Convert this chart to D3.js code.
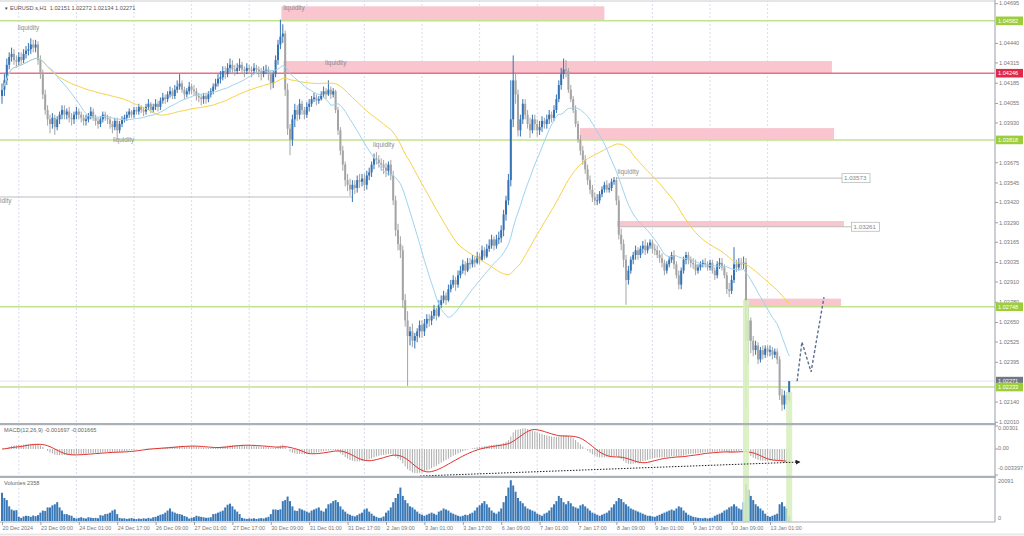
<!DOCTYPE html>
<html><head><meta charset="utf-8">
<script src="https://cdn.jsdelivr.net/npm/d3@7"></script>
<style>
body{margin:0;background:#fff;overflow:hidden;}
svg{display:block;font-family:"Liberation Sans",Arial,sans-serif;}
</style></head><body>
<svg id="c" width="1024" height="536"></svg>
<script>
// ---------------- DATA ----------------
const headerText = "EURUSD.s,H1  1.02151 1.02272 1.02134 1.02271";
const macdLabel = "MACD(12,26,9) -0.001697 -0.001665";
const volumeLabel = "Volumes 2358";
const firstOpen = 1.0410;
const closes = [
1.0414,1.0420,1.0430,1.0435,1.0437,1.0433,1.0432,1.0435,1.0433,1.0437,1.0439,1.0440,1.0443,1.0441,1.0443,1.0433,
1.0424,1.0411,1.0401,1.0395,1.0392,1.0396,1.0390,1.0395,1.0398,1.0401,1.0398,1.0400,1.0396,1.0395,1.0398,1.0400,
1.0398,1.0396,1.0394,1.0395,1.0397,1.0400,1.0396,1.0394,1.0392,1.0395,1.0398,1.0396,1.0395,1.0392,1.0390,1.0394,
1.0388,1.0392,1.0395,1.0396,1.0398,1.0400,1.0398,1.0401,1.0400,1.0403,1.0401,1.0400,1.0403,1.0405,1.0401,1.0403,
1.0405,1.0403,1.0407,1.0409,1.0408,1.0411,1.0413,1.0410,1.0414,1.0416,1.0418,1.0414,1.0411,1.0413,1.0416,1.0414,
1.0413,1.0410,1.0409,1.0408,1.0410,1.0408,1.0411,1.0413,1.0416,1.0418,1.0421,1.0422,1.0426,1.0424,1.0428,1.0430,
1.0427,1.0426,1.0428,1.0430,1.0427,1.0426,1.0428,1.0427,1.0426,1.0428,1.0427,1.0426,1.0424,1.0426,1.0427,1.0424,
1.0418,1.0424,1.0433,1.0443,1.0448,1.0450,1.0414,1.0389,1.0382,1.0395,1.0401,1.0398,1.0405,1.0401,1.0398,1.0403,
1.0405,1.0408,1.0409,1.0407,1.0408,1.0411,1.0413,1.0411,1.0414,1.0411,1.0413,1.0401,1.0388,1.0375,1.0366,1.0356,
1.0353,1.0350,1.0353,1.0351,1.0356,1.0355,1.0357,1.0353,1.0359,1.0361,1.0366,1.0370,1.0369,1.0367,1.0366,1.0364,
1.0362,1.0366,1.0359,1.0343,1.0324,1.0315,1.0311,1.0279,1.0266,1.0256,1.0259,1.0253,1.0256,1.0259,1.0263,1.0259,
1.0264,1.0267,1.0266,1.0269,1.0273,1.0269,1.0276,1.0279,1.0282,1.0279,1.0286,1.0289,1.0292,1.0289,1.0295,1.0298,
1.0302,1.0298,1.0303,1.0302,1.0305,1.0303,1.0307,1.0305,1.0311,1.0307,1.0312,1.0314,1.0318,1.0314,1.0318,1.0319,
1.0324,1.0334,1.0343,1.0356,1.0395,1.0420,1.0411,1.0388,1.0395,1.0405,1.0398,1.0392,1.0388,1.0395,1.0392,1.0388,
1.0390,1.0394,1.0392,1.0395,1.0398,1.0396,1.0401,1.0408,1.0417,1.0424,1.0427,1.0426,1.0414,1.0408,1.0401,1.0392,
1.0382,1.0375,1.0369,1.0363,1.0356,1.0350,1.0345,1.0343,1.0343,1.0347,1.0350,1.0353,1.0350,1.0351,1.0355,1.0356,
1.0343,1.0321,1.0315,1.0305,1.0292,1.0298,1.0305,1.0308,1.0311,1.0308,1.0312,1.0314,1.0311,1.0314,1.0316,1.0312,
1.0311,1.0308,1.0306,1.0303,1.0298,1.0302,1.0305,1.0308,1.0302,1.0295,1.0289,1.0298,1.0305,1.0308,1.0305,1.0303,
1.0302,1.0298,1.0300,1.0302,1.0303,1.0302,1.0300,1.0303,1.0298,1.0295,1.0302,1.0303,1.0300,1.0295,1.0286,1.0285,
1.0292,1.0302,1.0300,1.0303,1.0302,1.0303,1.0253,1.0266,1.0253,1.0247,1.0250,1.0241,1.0247,1.0244,1.0248,1.0246,
1.0247,1.0244,1.0246,1.0241,1.0218,1.0212,1.0218,1.02151,1.02271];
const highs = [
1.0418,1.0424,1.0434,1.0438,1.0441,1.0440,1.0436,1.0438,1.0438,1.0440,1.0442,1.0444,1.0447,1.0446,1.0446,1.0445,
1.0436,1.0427,1.0414,1.0404,1.0398,1.0399,1.0398,1.0397,1.0400,1.0404,1.0404,1.0402,1.0403,1.0399,1.0400,1.0403,
1.0402,1.0400,1.0398,1.0398,1.0399,1.0403,1.0402,1.0398,1.0396,1.0397,1.0400,1.0400,1.0398,1.0397,1.0394,1.0396,
1.0396,1.0394,1.0397,1.0398,1.0400,1.0402,1.0401,1.0403,1.0403,1.0405,1.0404,1.0403,1.0405,1.0408,1.0406,1.0405,
1.0408,1.0407,1.0409,1.0412,1.0411,1.0413,1.0416,1.0415,1.0417,1.0420,1.0424,1.0420,1.0416,1.0415,1.0419,1.0418,
1.0417,1.0415,1.0412,1.0411,1.0412,1.0412,1.0413,1.0415,1.0418,1.0421,1.0424,1.0426,1.0429,1.0429,1.0431,1.0434,
1.0433,1.0430,1.0431,1.0434,1.0432,1.0429,1.0431,1.0430,1.0429,1.0431,1.0430,1.0429,1.0428,1.0429,1.0430,1.0429,
1.0426,1.0426,1.0436,1.0446,1.0459,1.0456,1.0452,1.0418,1.0392,1.0398,1.0405,1.0404,1.0408,1.0407,1.0403,1.0406,
1.0408,1.0410,1.0412,1.0411,1.0410,1.0413,1.0416,1.0415,1.0420,1.0416,1.0415,1.0414,1.0403,1.0390,1.0378,1.0368,
1.0360,1.0357,1.0356,1.0356,1.0359,1.0360,1.0360,1.0360,1.0362,1.0364,1.0368,1.0373,1.0374,1.0372,1.0370,1.0369,
1.0367,1.0368,1.0369,1.0362,1.0346,1.0328,1.0320,1.0314,1.0283,1.0272,1.0262,1.0264,1.0258,1.0261,1.0266,1.0266,
1.0267,1.0270,1.0270,1.0272,1.0276,1.0274,1.0279,1.0282,1.0285,1.0284,1.0289,1.0292,1.0295,1.0294,1.0298,1.0301,
1.0305,1.0304,1.0306,1.0306,1.0308,1.0307,1.0310,1.0309,1.0314,1.0313,1.0315,1.0318,1.0321,1.0320,1.0321,1.0323,
1.0327,1.0337,1.0346,1.0360,1.0420,1.0436,1.0425,1.0414,1.0398,1.0408,1.0408,1.0401,1.0396,1.0398,1.0398,1.0395,
1.0394,1.0397,1.0396,1.0398,1.0401,1.0400,1.0404,1.0411,1.0420,1.0428,1.0434,1.0433,1.0428,1.0417,1.0410,1.0404,
1.0394,1.0385,1.0378,1.0372,1.0366,1.0359,1.0353,1.0348,1.0347,1.0349,1.0352,1.0355,1.0356,1.0354,1.0357,1.0358,
1.0358,1.0346,1.0325,1.0318,1.0308,1.0301,1.0307,1.0310,1.0314,1.0313,1.0314,1.0317,1.0318,1.0316,1.0318,1.0318,
1.0315,1.0314,1.0311,1.0309,1.0305,1.0304,1.0307,1.0310,1.0311,1.0304,1.0298,1.0300,1.0307,1.0310,1.0310,1.0307,
1.0306,1.0305,1.0302,1.0304,1.0305,1.0306,1.0304,1.0305,1.0305,1.0300,1.0304,1.0306,1.0306,1.0302,1.0297,1.0290,
1.0295,1.0313,1.0305,1.0306,1.0306,1.0307,1.0306,1.0276,1.0268,1.0256,1.0253,1.0252,1.0249,1.0250,1.0250,1.0250,
1.0250,1.0249,1.0248,1.0248,1.0243,1.0222,1.0221,1.0220,1.02272];
const lows = [
1.0405,1.0410,1.0417,1.0427,1.0432,1.0430,1.0428,1.0429,1.0430,1.0431,1.0434,1.0436,1.0437,1.0438,1.0438,1.0430,
1.0421,1.0408,1.0398,1.0391,1.0386,1.0389,1.0385,1.0388,1.0392,1.0395,1.0395,1.0395,1.0393,1.0391,1.0392,1.0395,
1.0395,1.0393,1.0391,1.0391,1.0393,1.0395,1.0394,1.0391,1.0389,1.0390,1.0393,1.0394,1.0392,1.0389,1.0386,1.0388,
1.0382,1.0386,1.0390,1.0393,1.0394,1.0396,1.0396,1.0396,1.0398,1.0398,1.0399,1.0397,1.0398,1.0401,1.0399,1.0399,
1.0401,1.0400,1.0401,1.0405,1.0405,1.0406,1.0409,1.0408,1.0408,1.0412,1.0414,1.0412,1.0408,1.0409,1.0411,1.0411,
1.0410,1.0407,1.0406,1.0404,1.0405,1.0405,1.0406,1.0409,1.0411,1.0414,1.0416,1.0418,1.0420,1.0421,1.0422,1.0425,
1.0424,1.0423,1.0424,1.0426,1.0424,1.0422,1.0424,1.0424,1.0422,1.0424,1.0424,1.0422,1.0420,1.0422,1.0424,1.0420,
1.0414,1.0415,1.0422,1.0430,1.0440,1.0444,1.0410,1.0385,1.0372,1.0378,1.0390,1.0394,1.0395,1.0398,1.0395,1.0396,
1.0400,1.0403,1.0406,1.0404,1.0405,1.0407,1.0409,1.0408,1.0410,1.0408,1.0409,1.0399,1.0385,1.0372,1.0362,1.0352,
1.0349,1.0346,1.0342,1.0347,1.0348,1.0351,1.0352,1.0349,1.0350,1.0356,1.0358,1.0363,1.0366,1.0364,1.0362,1.0360,
1.0358,1.0359,1.0356,1.0340,1.0320,1.0311,1.0306,1.0274,1.0262,1.0224,1.0250,1.0249,1.0248,1.0252,1.0255,1.0255,
1.0256,1.0261,1.0262,1.0263,1.0267,1.0266,1.0268,1.0274,1.0277,1.0276,1.0278,1.0284,1.0287,1.0285,1.0287,1.0293,
1.0296,1.0295,1.0297,1.0299,1.0300,1.0300,1.0302,1.0302,1.0304,1.0305,1.0306,1.0310,1.0312,1.0311,1.0312,1.0315,
1.0316,1.0320,1.0330,1.0340,1.0352,1.0390,1.0405,1.0384,1.0384,1.0392,1.0395,1.0389,1.0383,1.0386,1.0388,1.0384,
1.0385,1.0387,1.0389,1.0389,1.0392,1.0393,1.0394,1.0399,1.0406,1.0414,1.0421,1.0422,1.0412,1.0406,1.0399,1.0390,
1.0380,1.0372,1.0366,1.0360,1.0353,1.0347,1.0342,1.0340,1.0340,1.0341,1.0345,1.0348,1.0348,1.0348,1.0349,1.0353,
1.0340,1.0318,1.0311,1.0300,1.0276,1.0289,1.0296,1.0302,1.0305,1.0305,1.0306,1.0309,1.0308,1.0309,1.0312,1.0309,
1.0308,1.0306,1.0303,1.0300,1.0295,1.0296,1.0300,1.0303,1.0299,1.0293,1.0286,1.0286,1.0296,1.0302,1.0302,1.0300,
1.0299,1.0295,1.0296,1.0298,1.0300,1.0300,1.0298,1.0298,1.0296,1.0292,1.0293,1.0299,1.0298,1.0293,1.0283,1.0281,
1.0283,1.0290,1.0297,1.0298,1.0299,1.0299,1.0210,1.0238,1.0245,1.0243,1.0244,1.0238,1.0239,1.0241,1.0242,1.0243,
1.0243,1.0241,1.0242,1.0238,1.0215,1.0208,1.0209,1.0212,1.02134];
const volumes = [
13500,11000,10000,7000,5500,5000,5200,2000,1500,2200,2500,2400,2000,2600,2300,2800,
4000,5000,4800,6500,6500,7500,8000,9000,6500,5000,3300,3300,2800,2500,1500,1200,
1500,1800,1400,1200,1800,1600,1400,1500,1300,2800,2600,3300,3500,4000,5000,5500,
3300,1500,1200,1300,1000,1200,1400,1100,900,1200,1000,1300,1100,1500,1200,1800,
2000,2500,3000,3300,4000,5000,6000,4500,4000,3500,3300,3000,2400,2000,1200,1500,
1800,2500,2200,2000,1800,1500,1600,1800,3300,3500,4000,4500,5000,6500,7800,8300,
7000,5500,4500,3300,1500,1200,1000,1200,1100,1300,1000,1200,1400,1200,1600,2000,
3300,5500,5500,5300,5600,9500,10000,11700,9500,7000,5000,4800,6000,5500,5000,4500,
4000,5000,5500,6000,6500,5000,4500,6000,8000,8500,9500,10000,9000,7000,5500,4500,
3500,3000,2500,2200,2800,3500,4000,5500,6000,4500,3500,2500,2000,1500,1600,2200,
4000,5000,6500,9000,11000,13000,16000,12000,10000,8500,7000,6500,5500,4500,3500,3000,
2500,3000,3500,4000,3500,3000,4500,5000,6000,5500,5000,4000,3500,3000,2500,2200,
2500,3000,2800,3500,4000,5000,6500,7500,8500,9500,8000,6500,5000,4000,3500,4500,
6000,9000,12000,16000,19500,17000,14000,11000,9500,8500,7000,6000,5500,5000,4500,3500,
3000,2500,3500,4000,5000,6500,8000,9500,12000,11000,9000,8000,9500,8500,7000,6500,
6000,7500,8000,7000,6000,5000,4000,3500,3000,2500,3000,3500,4000,5000,6500,8000,
9500,11000,10500,9000,8000,7000,6000,5500,5000,4500,4000,3500,3000,2500,2500,2200,
2000,2500,3000,3500,4000,4500,5000,5500,5000,6000,7000,6500,5000,4000,3000,2500,
2000,1800,1500,1400,1300,1500,1200,1400,1600,2500,3000,3500,4000,5000,5500,6500,
7000,8000,7000,6000,5500,9000,17500,15000,12000,10000,8000,7000,6000,5000,3500,2500,
2000,2500,3000,3500,8000,9000,7000,6000,2358];
const timeLabels = ["20 Dec 2024","23 Dec 09:00","24 Dec 01:00","24 Dec 17:00","26 Dec 09:00","27 Dec 01:00","27 Dec 17:00","30 Dec 09:00","31 Dec 01:00","31 Dec 17:00","2 Jan 09:00","3 Jan 01:00","3 Jan 17:00","6 Jan 09:00","7 Jan 01:00","7 Jan 17:00","8 Jan 09:00","9 Jan 01:00","9 Jan 17:00","10 Jan 09:00","13 Jan 01:00"];
const timeLabelBars = [0,16,32,48,64,80,96,112,128,144,160,176,192,208,224,240,256,272,288,304,320];
const daySeparatorBars = [7,31,55,79,103,127,151,175,199,223,247,271,295,319];
const priceTicks = [1.04695,1.04440,1.04315,1.04185,1.04055,1.03930,1.03675,1.03545,1.03420,1.03290,1.03165,1.03035,1.02910,1.02780,1.02650,1.02525,1.02395,1.02140,1.02010];
const priceDomain = [1.02010, 1.04695];
const macdDomain = [-0.003397, 0.00301];
const macdTickLabels = ["0.00301","0.00","-0.003397"];
const volumeDomain = [0, 20091];
const greenLevels = [1.04582, 1.03818, 1.02748, 1.02233];
const redLevels = [1.04246];
const bidPrice = 1.02271;
const greyLinePrices = [1.03452, 1.03573, 1.03261];
const greyLineStart = [-6, 256, 257];
const greyLineEnd = [146, 350, 354];
const greyLineLabels = ["", "1.03573", "1.03261"];
const zoneStart = [116.4, 117.3, 240.8, 256.3, 309.2];
const zoneEnd   = [251.0, 345.8, 346.7, 350.8, 349.6];
const zoneTop   = [1.04675, 1.04324, 1.03894, 1.03298, 1.02800];
const zoneBottom= [1.04582, 1.04246, 1.03818, 1.03261, 1.02748];
const liqBars   = [6.6, 46.2, 117.2, 134.6, 154.6, 256.5, -0.8];
const liqPrices = [1.04520, 1.03805, 1.04650, 1.04300, 1.03775, 1.03600, 1.03415];
const liqTexts  = ["liquidity","liquidity","liquidity","liquidity","liquidity","liquidity","idity"];
const highlightBars = [310, 328];
const highlightTopPrice = [1.02790, 1.02200];
const projBars = [331.3, 333.3, 337.1, 342.5];
const projPrices = [1.02270, 1.02522, 1.02330, 1.02810];
const divBars = [174.2, 332.5];
const divValues = [-0.00353, -0.00170];

// ---------------- HELPERS ----------------
const N = closes.length;
const opens = closes.map((c,i)=> i===0 ? firstOpen : closes[i-1]);
function sma(arr, n){ return arr.map((_,i)=>{ const s=Math.max(0,i-n+1); return d3.mean(arr.slice(s,i+1)); }); }
function ema(arr, n){ const k=2/(n+1); let e=arr[0]; return arr.map(v=> (e = v*k + e*(1-k))); }
const maFast = sma(closes, 20);
const maSlow = sma(closes, 50);
const e12 = ema(closes,12), e26 = ema(closes,26);
const macd = e12.map((v,i)=> v - e26[i]);
const signal = sma(macd, 9);

// ---------------- SCALES ----------------
const W = 1024, H = 536;
const plotRight = 995;
const x = d3.scaleLinear().domain([0, N-1]).range([2, 2 + (N-1)*2.4]);
const y = d3.scaleLinear().domain(priceDomain).range([421.8, 3.2]);
const yM = d3.scaleLinear().domain(macdDomain).range([475, 426]);
const yV = d3.scaleLinear().domain(volumeDomain).range([521, 479]);

const svg = d3.select("#c");
svg.append("rect").attr("width",W).attr("height",H).attr("fill","#fff");

svg.append("clipPath").attr("id","cm").append("rect").attr("x",0).attr("y",1).attr("width",plotRight).attr("height",422);
svg.append("clipPath").attr("id","cmacd").append("rect").attr("x",0).attr("y",425).attr("width",plotRight).attr("height",51);
svg.append("clipPath").attr("id","cv").append("rect").attr("x",0).attr("y",478).attr("width",plotRight).attr("height",44);

const gMain = svg.append("g").attr("clip-path","url(#cm)");
const gMacd = svg.append("g").attr("clip-path","url(#cmacd)");
const gVol = svg.append("g").attr("clip-path","url(#cv)");

[gMain,gMacd,gVol].forEach(g=>{
  g.selectAll("line.grid").data(daySeparatorBars).join("line")
   .attr("x1",d=>x(d)).attr("x2",d=>x(d)).attr("y1",0).attr("y2",536)
   .attr("stroke","#cfd0ea").attr("stroke-width",0.8).attr("stroke-dasharray","2,2");
});

svg.append("g").selectAll("rect").data(highlightBars).join("rect")
  .attr("x",d=>x(d)-3).attr("width",6)
  .attr("y",(d,i)=>y(highlightTopPrice[i])).attr("height",(d,i)=>522 - y(highlightTopPrice[i]))
  .attr("fill","#d9efc0").attr("opacity",0.9);

gMain.selectAll("rect.zone").data(zoneStart).join("rect")
  .attr("x",(d)=>x(d)).attr("width",(d,i)=>x(zoneEnd[i])-x(d))
  .attr("y",(d,i)=>y(zoneTop[i])).attr("height",(d,i)=>y(zoneBottom[i])-y(zoneTop[i]))
  .attr("fill","#f9c6d0");

gMain.selectAll("line.gl").data(greenLevels).join("line")
  .attr("x1",0).attr("x2",plotRight).attr("y1",d=>y(d)).attr("y2",d=>y(d))
  .attr("stroke","#c2e38e").attr("stroke-width",1.6);
gMain.selectAll("line.rl").data(redLevels).join("line")
  .attr("x1",0).attr("x2",plotRight).attr("y1",d=>y(d)).attr("y2",d=>y(d))
  .attr("stroke","#ec6f86").attr("stroke-width",1.4);
gMain.append("line").attr("x1",0).attr("x2",plotRight).attr("y1",y(bidPrice)).attr("y2",y(bidPrice))
  .attr("stroke","#e2e2f4").attr("stroke-width",1);

gMain.selectAll("line.grey").data(greyLinePrices).join("line")
  .attr("x1",(d,i)=>x(greyLineStart[i])).attr("x2",(d,i)=>x(greyLineEnd[i]))
  .attr("y1",d=>y(d)).attr("y2",d=>y(d))
  .attr("stroke","#bdbdbd").attr("stroke-width",1);
greyLinePrices.forEach((p,i)=>{
  if(!greyLineLabels[i]) return;
  const gx = x(greyLineEnd[i]);
  gMain.append("rect").attr("x",gx).attr("y",y(p)-4.5).attr("width",28).attr("height",9)
    .attr("fill","#fff").attr("stroke","#bbb").attr("stroke-width",0.8);
  gMain.append("text").attr("x",gx+2).attr("y",y(p)+2).attr("font-size",6.2).attr("fill","#888").text(greyLineLabels[i]);
});

gMain.selectAll("text.liq").data(liqBars).join("text")
  .attr("x",d=>Math.max(0,x(d))).attr("y",(d,i)=>y(liqPrices[i])).attr("font-size",6.4).attr("fill","#8c8c8c")
  .text((d,i)=>liqTexts[i]);

const bull = "#3572b3", bear = "#a4a4a4";
const cg = gMain.append("g");
cg.selectAll("line.w").data(closes).join("line")
  .attr("x1",(d,i)=>x(i)).attr("x2",(d,i)=>x(i))
  .attr("y1",(d,i)=>y(highs[i])).attr("y2",(d,i)=>y(lows[i]))
  .attr("stroke",(d,i)=> d>=opens[i]?bull:bear).attr("stroke-width",1);
cg.selectAll("rect.b").data(closes).join("rect")
  .attr("x",(d,i)=>x(i)-1).attr("width",2)
  .attr("y",(d,i)=>y(Math.max(d,opens[i])))
  .attr("height",(d,i)=>Math.max(0.8, Math.abs(y(d)-y(opens[i]))))
  .attr("fill",(d,i)=> d>=opens[i]?bull:bear);

const lineMain = arr => d3.line().x((d,i)=>x(i)).y(d=>y(d))(arr);
gMain.append("path").attr("d",lineMain(maSlow)).attr("fill","none").attr("stroke","#f7d24a").attr("stroke-width",1);
gMain.append("path").attr("d",lineMain(maFast)).attr("fill","none").attr("stroke","#9fd3ee").attr("stroke-width",1);

gMain.append("path").attr("d", d3.line().x(d=>x(d)).y((d,i)=>y(projPrices[i]))(projBars))
  .attr("fill","none").attr("stroke","#5d6f8f").attr("stroke-width",1.4).attr("stroke-dasharray","3,2");

gMacd.selectAll("line.h").data(macd).join("line")
  .attr("x1",(d,i)=>x(i)).attr("x2",(d,i)=>x(i)).attr("y1",yM(0)).attr("y2",d=>yM(d))
  .attr("stroke","#ababab").attr("stroke-width",1);
gMacd.append("path").attr("d", d3.line().x((d,i)=>x(i)).y(d=>yM(d))(signal))
  .attr("fill","none").attr("stroke","#e3312d").attr("stroke-width",1);
svg.append("defs").append("marker").attr("id","arr").attr("viewBox","0 0 10 10").attr("refX",9).attr("refY",5)
  .attr("markerWidth",5).attr("markerHeight",5).attr("orient","auto")
  .append("path").attr("d","M0,0L10,5L0,10z").attr("fill","#222");
svg.append("line").attr("x1",x(divBars[0])).attr("y1",yM(divValues[0])).attr("x2",x(divBars[1])).attr("y2",yM(divValues[1]))
  .attr("stroke","#222").attr("stroke-width",1).attr("stroke-dasharray","1.5,1.5").attr("marker-end","url(#arr)");

gVol.selectAll("rect.v").data(volumes).join("rect")
  .attr("x",(d,i)=>x(i)-1).attr("width",2).attr("y",d=>yV(d)).attr("height",d=>yV(0)-yV(d))
  .attr("fill","#3a78b6");

svg.append("line").attr("x1",0).attr("x2",plotRight).attr("y1",1).attr("y2",1).attr("stroke","#c8ccd2").attr("stroke-width",1);
svg.append("rect").attr("x",0).attr("y",423).attr("width",plotRight+1).attr("height",2.2).attr("fill","#a9b0b8");
svg.append("rect").attr("x",0).attr("y",475.8).attr("width",plotRight+1).attr("height",2.2).attr("fill","#a9b0b8");
svg.append("line").attr("x1",0).attr("x2",plotRight).attr("y1",522).attr("y2",522).attr("stroke","#a9b0b8").attr("stroke-width",1);
svg.append("line").attr("x1",plotRight).attr("x2",plotRight).attr("y1",0).attr("y2",522).attr("stroke","#a9b0b8").attr("stroke-width",1.2);
svg.append("line").attr("x1",0).attr("x2",1024).attr("y1",534.5).attr("y2",534.5).attr("stroke","#e6e8ea").attr("stroke-width",2);

svg.append("text").attr("x",4).attr("y",9.5).attr("font-size",4.5).attr("fill","#444").text("\u25BC");
svg.append("text").attr("x",10).attr("y",9.5).attr("font-size",5.6).attr("fill","#555").attr("xml:space","preserve").text(headerText);
svg.append("text").attr("x",4).attr("y",432).attr("font-size",5.6).attr("fill","#666").text(macdLabel);
svg.append("text").attr("x",4).attr("y",484.5).attr("font-size",5.6).attr("fill","#666").text(volumeLabel);

const axisR = d3.axisRight(y).tickValues(priceTicks).tickSize(3).tickFormat(d3.format(".5f"));
const ga = svg.append("g").attr("transform",`translate(${plotRight},0)`).call(axisR);
ga.select(".domain").remove();
ga.selectAll("line").attr("stroke","#9aa0a8");
ga.selectAll("text").attr("font-size",5.6).attr("fill","#777").attr("font-family","Liberation Sans").attr("x",4);

function priceBox(p, fill){
  const yy = y(p);
  svg.append("rect").attr("x",plotRight+1).attr("y",yy-4.3).attr("width",27).attr("height",8.6).attr("fill",fill);
  svg.append("text").attr("x",plotRight+3).attr("y",yy+2).attr("font-size",5.6).attr("fill","#fff").text(d3.format(".5f")(p));
}
greenLevels.slice(0,3).forEach(p=>priceBox(p,"#9ccd3c"));
redLevels.forEach(p=>priceBox(p,"#e0294a"));
priceBox(bidPrice,"#6f7884");
priceBox(greenLevels[3],"#9ccd3c");

const macdTickVals = [macdDomain[1], 0, macdDomain[0]];
const macdTickY = [429.5, 449.5, 469.5];
macdTickVals.forEach((v,i)=>{
  svg.append("line").attr("x1",plotRight).attr("x2",plotRight+3).attr("y1",yM(v)).attr("y2",yM(v)).attr("stroke","#9aa0a8");
  svg.append("text").attr("x",plotRight+3).attr("y",macdTickY[i]).attr("font-size",5.6).attr("fill","#777").text(macdTickLabels[i]);
});
svg.append("text").attr("x",plotRight+3).attr("y",482.5).attr("font-size",5.6).attr("fill","#777").text(d3.format("d")(volumeDomain[1]));
svg.append("text").attr("x",plotRight+3).attr("y",520).attr("font-size",5.6).attr("fill","#777").text(d3.format("d")(volumeDomain[0]));

const axisB = d3.axisBottom(x).tickValues(timeLabelBars).tickSize(3).tickFormat((d,i)=>timeLabels[i]);
const gb = svg.append("g").attr("transform","translate(0,522)").call(axisB);
gb.select(".domain").remove();
gb.selectAll("line").attr("stroke","#9aa0a8");
gb.selectAll("text").attr("font-size",5.4).attr("fill","#777").attr("font-family","Liberation Sans")
  .attr("text-anchor","start").attr("dx",0).attr("y",4);
</script>
</body></html>
